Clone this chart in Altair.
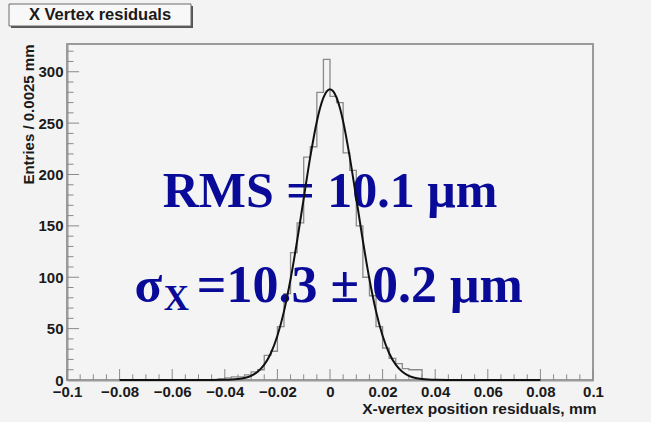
import altair as alt
import pandas as pd

# ---- data ----
bin_left = [-0.045, -0.0425, -0.04, -0.0375, -0.035, -0.0325, -0.03, -0.0275,
            -0.025, -0.0225, -0.02, -0.0175, -0.015, -0.0125, -0.01, -0.0075,
            -0.005, -0.0025, 0.0, 0.0025, 0.005, 0.0075, 0.01, 0.0125,
            0.015, 0.0175, 0.02, 0.0225, 0.025, 0.0275, 0.03, 0.0325,
            0.035, 0.0375, 0.04]
counts = [0, 1, 2, 3, 3, 5, 8, 10,
          24, 28, 52, 84, 124, 153, 217, 227,
          280, 312, 276, 270, 221, 204, 150, 100,
          82, 52, 31, 21, 16, 11, 10, 10,
          0, 0, 0]

curve_x = [-0.08, -0.05, -0.045, -0.04, -0.0375, -0.035, -0.0325, -0.03, -0.0275,
           -0.025, -0.0225, -0.02, -0.0175, -0.015, -0.0125, -0.01, -0.0075,
           -0.005, -0.00375, -0.0025, -0.00125, 0.0, 0.00125, 0.0025, 0.00375,
           0.005, 0.0075, 0.01, 0.0125, 0.015, 0.0175, 0.02, 0.0225, 0.025,
           0.0275, 0.03, 0.0325, 0.035, 0.0375, 0.04, 0.045, 0.05, 0.08]
curve_y = [0.0, 0.0, 0.02, 0.15, 0.37, 0.88, 1.95, 4.07, 8.0,
           14.9, 26.0, 43.0, 66.8, 98.0, 135.5, 176.6, 217.1,
           251.6, 264.9, 274.8, 280.9, 283.0, 280.9, 274.8, 264.9,
           251.6, 217.1, 176.6, 135.5, 98.0, 66.8, 43.0, 26.0, 14.9,
           8.0, 4.07, 1.95, 0.88, 0.37, 0.15, 0.02, 0.0, 0.0]

x_tick_labels = [-0.1, -0.08, -0.06, -0.04, -0.02, 0.0, 0.02, 0.04, 0.06, 0.08, 0.1]
y_tick_labels = [0, 50, 100, 150, 200, 250, 300]

title_text = "X Vertex residuals"
rms_text = "RMS = 10.1 μm"
sigma_text = "=10.3 ± 0.2 μm"

# ---- tables ----
hist_df = pd.DataFrame({"x": bin_left, "y": counts})
curve_df = pd.DataFrame({"x": curve_x, "y": curve_y})
one = pd.DataFrame({"a": [0]})

x_minor = [i * 0.005 for i in range(-20, 21) if i % 4 != 0]
y_minor = [v for v in range(0, 330, 10) if v % 50 != 0]
xmaj_df = pd.DataFrame({"x": x_tick_labels})
xmin_df = pd.DataFrame({"x": x_minor})
ymaj_df = pd.DataFrame({"y": y_tick_labels})
ymin_df = pd.DataFrame({"y": y_minor})

FONT = "Liberation Sans"
SERIF = "Liberation Serif"
BLUE = "#0a0a98"
GRAY = "#9a9a9a"

xscale = alt.Scale(domain=[-0.1, 0.1], nice=False, zero=False)
yscale = alt.Scale(domain=[0, 327], nice=False, zero=False)

xaxis = alt.Axis(values=x_tick_labels, format="~g", labelFlush=False, ticks=False,
                 grid=False, labelFont=FONT, labelFontWeight="bold", labelFontSize=15,
                 labelColor="#1a1a1a", labelPadding=4, domainColor=GRAY, domainWidth=2,
                 title="X-vertex position residuals, mm", titleFont=FONT,
                 titleFontWeight="bold", titleFontSize=15.5, titleColor="#1a1a1a",
                 titleX=529, titleY=33, titleAlign="right", titleBaseline="alphabetic")
yaxis = alt.Axis(values=y_tick_labels, format="d", ticks=False, grid=False,
                 labelFont=FONT, labelFontWeight="bold", labelFontSize=15,
                 labelColor="#1a1a1a", labelPadding=4, domainColor=GRAY, domainWidth=2,
                 title="Entries / 0.0025 mm", titleFont=FONT, titleFontWeight="bold",
                 titleFontSize=15, titleColor="#1a1a1a", titleAngle=270,
                 titleX=-39, titleY=0, titleAlign="right", titleBaseline="middle")

hist = alt.Chart(hist_df).mark_line(interpolate="step-after", color="#8a8a8a",
                                    strokeWidth=1.3).encode(
    x=alt.X("x:Q", scale=xscale, axis=xaxis),
    y=alt.Y("y:Q", scale=yscale, axis=yaxis),
)

curve = alt.Chart(curve_df).mark_line(interpolate="monotone", color="#111111",
                                      strokeWidth=2).encode(
    x=alt.X("x:Q"), y=alt.Y("y:Q"))

rms = alt.Chart(one).mark_text(text=rms_text, font=SERIF, fontWeight="bold",
                               fontSize=50, color=BLUE, align="center",
                               baseline="alphabetic").encode(
    x=alt.datum(0.0), y=alt.datum(168.7))
sig1 = alt.Chart(one).mark_text(text="σ", font=SERIF, fontWeight="bold",
                                fontSize=51, color=BLUE, align="left",
                                baseline="alphabetic").encode(
    x=alt.datum(-0.0743), y=alt.datum(76.2))
sig2 = alt.Chart(one).mark_text(text="X", font=SERIF, fontWeight="bold",
                                fontSize=35, color=BLUE, align="left",
                                baseline="alphabetic").encode(
    x=alt.datum(-0.0632), y=alt.datum(68.0))
sig3 = alt.Chart(one).mark_text(text=sigma_text, font=SERIF, fontWeight="bold",
                                fontSize=52, color=BLUE, align="right",
                                baseline="alphabetic").encode(
    x=alt.datum(0.0733), y=alt.datum(76.2))

xmaj = alt.Chart(xmaj_df).mark_rule(color="#8a8a8a", strokeWidth=1).encode(
    x="x:Q", y=alt.datum(0), y2=alt.datum(10.7))
xmin = alt.Chart(xmin_df).mark_rule(color="#8a8a8a", strokeWidth=1).encode(
    x="x:Q", y=alt.datum(0), y2=alt.datum(5.5))
ymaj = alt.Chart(ymaj_df).mark_rule(color="#8a8a8a", strokeWidth=1).encode(
    y="y:Q", x=alt.datum(-0.1), x2=alt.datum(-0.1 + 0.0046))
ymin = alt.Chart(ymin_df).mark_rule(color="#8a8a8a", strokeWidth=1).encode(
    y="y:Q", x=alt.datum(-0.1), x2=alt.datum(-0.1 + 0.0025))

box_shadow = alt.Chart(one).mark_rect(fill="#555555").encode(
    x=alt.value(-56), x2=alt.value(126), y=alt.value(-38), y2=alt.value(-16))
box = alt.Chart(one).mark_rect(fill="#f8f8f8", stroke="#6a6a6a", strokeWidth=1).encode(
    x=alt.value(-58), x2=alt.value(124), y=alt.value(-40), y2=alt.value(-18))
box_text = alt.Chart(one).mark_text(text=title_text, font=FONT, fontWeight="bold",
                                    fontSize=16.5, color="#1a1a1a", align="center",
                                    baseline="middle").encode(
    x=alt.value(33), y=alt.value(-29))

chart = alt.layer(
    hist, rms, sig1, sig2, sig3, xmaj, xmin, ymaj, ymin, curve,
    box_shadow, box, box_text
).properties(
    width=526, height=336,
    autosize=alt.AutoSizeParams(type="none"),
    padding={"left": 67, "top": 44, "right": 58, "bottom": 42},
    background="#f3f3f3",
).configure_view(
    fill="#f4f4f4", stroke=GRAY, strokeWidth=2
)

chart.save("out.html", embed_options={"renderer": "svg", "actions": False})
